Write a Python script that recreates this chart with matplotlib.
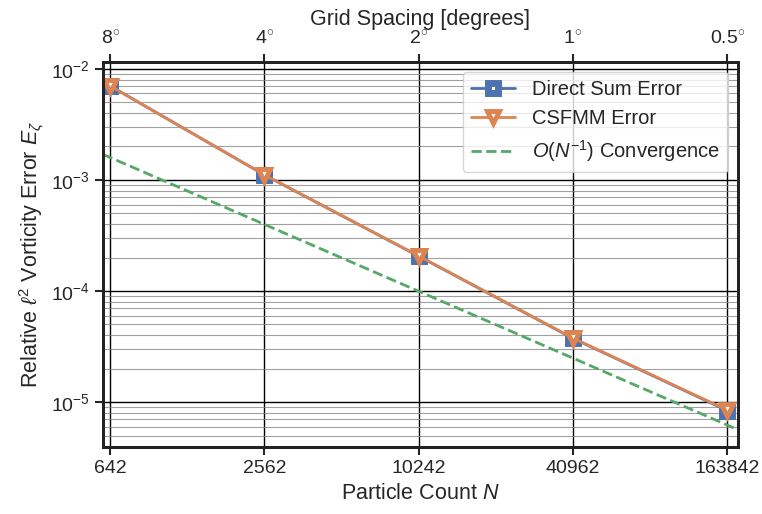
import numpy as np
import matplotlib
matplotlib.use("Agg")
import matplotlib.pyplot as plt
import matplotlib.ticker as ticker
import seaborn as sns

# particle counts and matching grid spacing
particle_counts = [642, 2562, 10242, 40962, 163842]
spacing_labels = ["8$^{\\circ}$", "4$^{\\circ}$", "2$^{\\circ}$", "1$^{\\circ}$", "0.5$^{\\circ}$"]

direct_err = [7.0e-3, 1.11e-3, 2.06e-4, 3.75e-5, 8.4e-6]
csfmm_err = [7.0e-3, 1.11e-3, 2.07e-4, 3.77e-5, 8.5e-6]

# reference O(N^-1) line
conv_const = 1.02
x_range = [600, 180000]

sns.set_theme(style="ticks", palette="deep")
plt.rcParams["font.family"] = ["Liberation Sans", "DejaVu Sans"]
plt.rcParams["mathtext.fontset"] = "custom"
plt.rcParams["mathtext.rm"] = "Liberation Sans"
plt.rcParams["mathtext.it"] = "Liberation Sans:italic"

colors = sns.color_palette("deep")
tick_font = 14
axis_font = 15.5

fig, ax = plt.subplots(figsize=(7.62, 5.14), dpi=100)
fig.subplots_adjust(left=0.135, right=0.968, top=0.88, bottom=0.13)

ax.plot(particle_counts, direct_err, color=colors[0], marker="s", markersize=6.5,
        markeredgewidth=5, markerfacecolor="white", linewidth=2, label="Direct Sum Error")
ax.plot(particle_counts, csfmm_err, color=colors[1], marker="v", markersize=8,
        markeredgewidth=3.5, markerfacecolor="white", linewidth=2, label="CSFMM Error")
xr = np.array(x_range, dtype=float)
ax.plot(xr, conv_const / xr, color=colors[2], linestyle="--", linewidth=2,
        label="$O(N^{-1})$ Convergence")

ax.set_xscale("log")
ax.set_yscale("log")
ax.set_xlim(*x_range)
ax.set_ylim(3.93e-6, 1.16e-2)
ax.set_xticks(particle_counts)
ax.xaxis.set_major_formatter(ticker.FixedFormatter([str(n) for n in particle_counts]))
ax.xaxis.set_minor_locator(ticker.NullLocator())

ax.grid(True, which="major", color="black", linewidth=1)
ax.grid(True, which="minor", axis="y", color="gray", linewidth=0.8, alpha=0.75)
ax.tick_params(axis="both", which="major", labelsize=tick_font, direction="out", length=6, width=1.5)
ax.tick_params(axis="y", which="minor", length=0)
for s in ax.spines.values():
    s.set_linewidth(2)
    s.set_color("#222222")

ax.set_xlabel("Particle Count $N$", fontsize=axis_font)
ax.set_ylabel("Relative $\\ell^2$ Vorticity Error $E_\\zeta$", fontsize=axis_font)

top = ax.twiny()
top.set_xscale("log")
top.set_xlim(ax.get_xlim())
top.set_xticks(particle_counts)
top.xaxis.set_major_formatter(ticker.FixedFormatter(spacing_labels))
top.xaxis.set_minor_locator(ticker.NullLocator())
top.tick_params(axis="x", labelsize=tick_font, direction="out", length=6, width=1.5)
top.set_xlabel("Grid Spacing [degrees]", fontsize=axis_font)
for s in top.spines.values():
    s.set_linewidth(2)
    s.set_color("#222222")

ax.legend(loc="upper right", fontsize=14.5, frameon=True, handlelength=2.2)

fig.savefig("out.png", dpi=100)
